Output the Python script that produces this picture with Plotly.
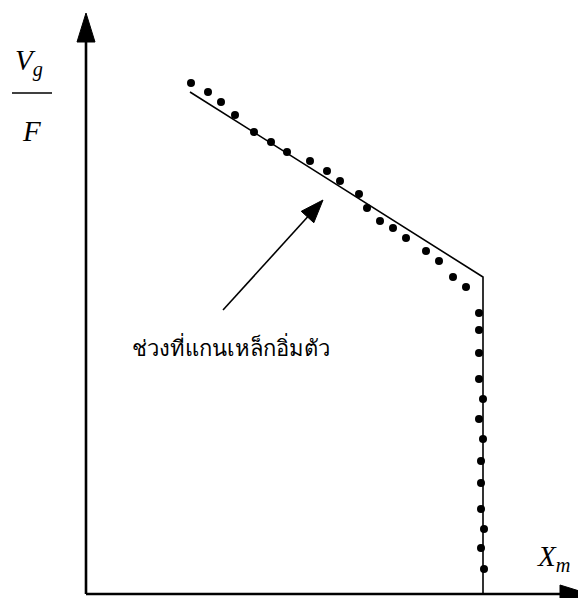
import plotly.graph_objects as go

# Measured points: V_g/F against X_m (arbitrary units)
sat_x = [1.05, 1.22, 1.35, 1.49, 1.68, 1.85, 2.01, 2.24, 2.41, 2.54,
         2.73, 2.81, 2.94, 3.07, 3.20, 3.40, 3.53, 3.67, 3.80]
sat_y = [5.11, 5.02, 4.92, 4.79, 4.62, 4.52, 4.42, 4.33, 4.23, 4.13,
         4.00, 3.86, 3.73, 3.66, 3.56, 3.43, 3.33, 3.17, 3.07]

lin_x = [3.93, 3.93, 3.93, 3.93, 3.97, 3.93, 3.97, 3.95, 3.95, 3.95,
         3.98, 3.95, 3.98]
lin_y = [2.81, 2.64, 2.41, 2.15, 1.95, 1.75, 1.55, 1.33, 1.11, 0.85,
         0.65, 0.46, 0.25]

# Piecewise model curve (sloped saturated part, then vertical)
model_x = [1.04, 3.97, 3.97]
model_y = [5.02, 3.17, 0.0]

W, H = 578, 598
X0, X1 = -0.86, 4.92
Y0, Y1 = -0.04, 5.94


def px(xv, yv):
    """pixel position -> data coordinates"""
    return (X0 + xv / W * (X1 - X0), Y1 - yv / H * (Y1 - Y0))


fig = go.Figure()

fig.add_trace(go.Scatter(
    x=model_x, y=model_y, mode="lines",
    line=dict(color="black", width=1.6), hoverinfo="skip"))

fig.add_trace(go.Scatter(
    x=sat_x + lin_x, y=sat_y + lin_y, mode="markers",
    marker=dict(color="black", size=8), hoverinfo="skip"))

shapes = []
ax_w = 2.6
# vertical axis with arrowhead
shapes.append(dict(type="line", xref="x", yref="y", x0=0, y0=0, x1=0, y1=5.55,
                   line=dict(color="black", width=ax_w)))
shapes.append(dict(type="path", xref="x", yref="y",
                   path="M -0.09 5.52 L 0 5.81 L 0.09 5.52 Z",
                   fillcolor="black", line=dict(color="black", width=1)))
# horizontal axis with arrowhead
shapes.append(dict(type="line", xref="x", yref="y", x0=0, y0=0, x1=4.77, y1=0,
                   line=dict(color="black", width=ax_w)))
shapes.append(dict(type="path", xref="x", yref="y",
                   path="M 4.74 0.09 L 5.03 0 L 4.74 -0.09 Z",
                   fillcolor="black", line=dict(color="black", width=1)))

# pointer from the caption to the saturated region
tx, ty = 1.37, 2.84
hx, hy = 2.37, 3.94
dx, dy = hx - tx, hy - ty
L = (dx * dx + dy * dy) ** 0.5
ux, uy = dx / L, dy / L
hl, hw = 0.23, 0.085
bx, by = hx - ux * hl, hy - uy * hl
shapes.append(dict(type="line", xref="x", yref="y", x0=tx, y0=ty, x1=bx + ux * 0.02, y1=by + uy * 0.02,
                   line=dict(color="black", width=1.6)))
shapes.append(dict(type="path", xref="x", yref="y",
                   path=f"M {bx - uy * hw} {by + ux * hw} L {hx} {hy} L {bx + uy * hw} {by - ux * hw} Z",
                   fillcolor="black", line=dict(color="black", width=1)))

# fraction bar of the y label
fx0, fy = px(12, 93)
fx1, _ = px(52, 93)
shapes.append(dict(type="line", xref="x", yref="y", x0=fx0, y0=fy, x1=fx1, y1=fy,
                   line=dict(color="black", width=1.5)))

serif = "Liberation Serif, Times New Roman, serif"
annotations = []


def label(text, xp, yp, size, anchor="center"):
    x, y = px(xp, yp)
    annotations.append(dict(x=x, y=y, xref="x", yref="y", showarrow=False,
                            xanchor=anchor, text=text,
                            font=dict(family=serif, size=size, color="black")))


# y-axis label: V_g over F
label("<i>V</i><sub><i>g</i></sub>", 29, 62, 29)
label("<i>F</i>", 31, 131, 29)
# x-axis label: X_m
label("<i>X</i><sub><i>m</i></sub>", 535, 558, 29, anchor="left")
# caption for the saturated region
label("ช่วงที่แกนเหล็กอิ่มตัว", 130, 347, 22, anchor="left")

fig.update_layout(
    width=W, height=H,
    margin=dict(l=0, r=0, t=0, b=0),
    paper_bgcolor="white", plot_bgcolor="white",
    showlegend=False,
    xaxis=dict(range=[X0, X1], visible=False, fixedrange=True),
    yaxis=dict(range=[Y0, Y1], visible=False, fixedrange=True),
    shapes=shapes, annotations=annotations,
)

fig.write_html("out.html")
